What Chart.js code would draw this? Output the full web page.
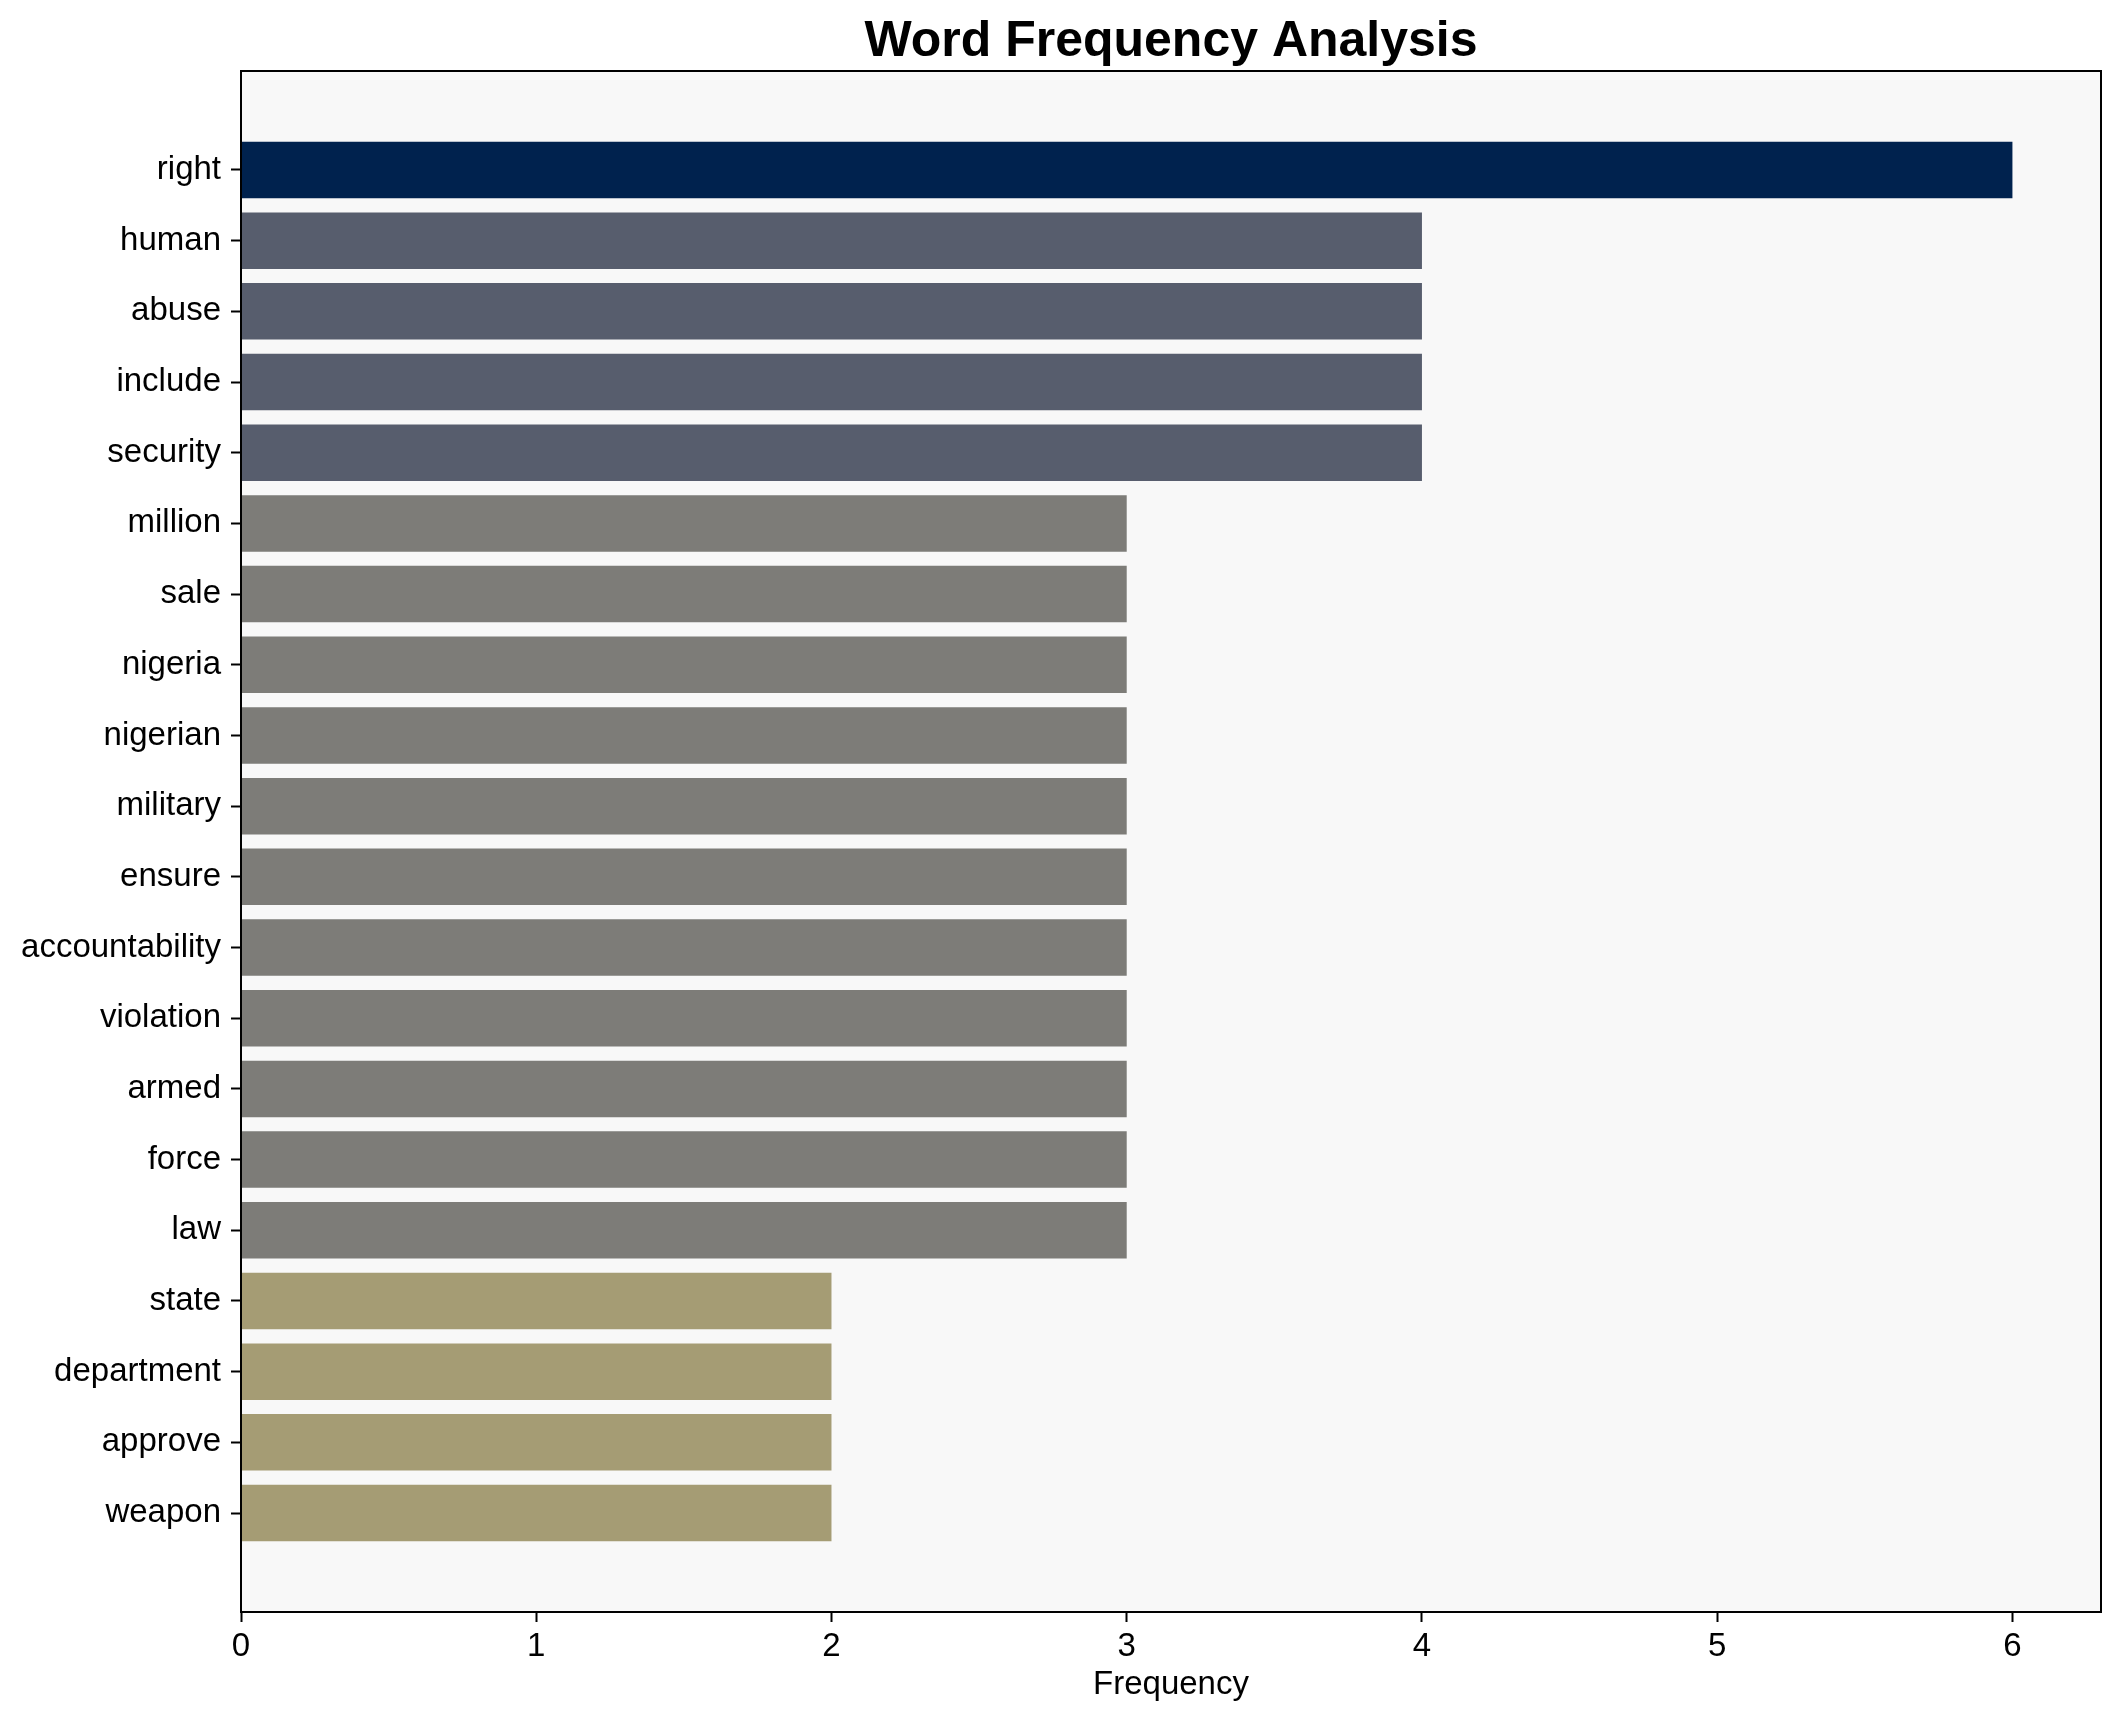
<!DOCTYPE html>
<html>
<head>
<meta charset="utf-8">
<script src="https://cdn.jsdelivr.net/npm/chart.js@4.4.1/dist/chart.umd.min.js"></script>
<style>
  html, body { margin: 0; padding: 0; background: #ffffff; }
  #wrap { width: 2121px; height: 1722px; }
</style>
</head>
<body>
<div id="wrap"><canvas id="c" width="2121" height="1722"></canvas></div>
<script>
const words = ["right", "human", "abuse", "include", "security", "million", "sale", "nigeria", "nigerian", "military", "ensure", "accountability", "violation", "armed", "force", "law", "state", "department", "approve", "weapon"];
const counts = [6, 4, 4, 4, 4, 3, 3, 3, 3, 3, 3, 3, 3, 3, 3, 3, 2, 2, 2, 2];
const xTicks = [0, 1, 2, 3, 4, 5, 6];
const titleText = "Word Frequency Analysis";
const xLabel = "Frequency";
const palette = { 6: "#00224E", 4: "#575D6D", 3: "#7D7C78", 2: "#A59C74" };

const FONT = "'Liberation Sans', Arial, sans-serif";

const framePlugin = {
  id: 'frame',
  beforeDatasetsDraw(chart) {
    const a = chart.chartArea, ctx = chart.ctx;
    ctx.save();
    ctx.fillStyle = '#f8f8f8';
    ctx.fillRect(a.left, a.top, a.right - a.left, a.bottom - a.top);
    ctx.restore();
  },
  afterDatasetsDraw(chart) {
    const a = chart.chartArea, ctx = chart.ctx;
    ctx.save();
    ctx.strokeStyle = '#000';
    ctx.lineWidth = 2;
    ctx.strokeRect(a.left, a.top, a.right - a.left, a.bottom - a.top);
    ctx.restore();
  }
};

new Chart(document.getElementById('c'), {
  type: 'bar',
  data: {
    datasets: [{
      data: words.map((w, i) => ({ x: counts[i], y: i })),
      backgroundColor: counts.map(v => palette[v]),
      borderWidth: 0,
      barPercentage: 0.8,
      categoryPercentage: 1.0
    }]
  },
  options: {
    indexAxis: 'y',
    responsive: false,
    animation: false,
    layout: { padding: { left: 0, right: 20, top: 0, bottom: 0 } },
    plugins: {
      legend: { display: false },
      tooltip: { enabled: false },
      title: {
        display: true,
        text: titleText,
        fullSize: false,
        color: '#000',
        font: { family: FONT, size: 50, weight: 'bold', lineHeight: 1 },
        padding: { top: 17, bottom: 4 }
      }
    },
    scales: {
      x: {
        type: 'linear',
        offset: false,
        min: 0,
        max: 6.3,
        afterBuildTicks: (s) => { s.ticks = xTicks.map(v => ({ value: v })); },
        afterFit: (s) => { s.height = 110; },
        grid: { offset: false, drawOnChartArea: false, drawTicks: true, tickLength: 10, tickWidth: 2, tickColor: '#000' },
        border: { display: false },
        ticks: { color: '#000', padding: 5, font: { family: FONT, size: 33, lineHeight: 1.2 }, maxRotation: 0, autoSkip: false },
        title: { display: true, text: xLabel, color: '#000', font: { family: FONT, size: 33, lineHeight: 1.2 }, padding: { top: 0, bottom: 17 } }
      },
      y: {
        type: 'linear',
        offset: false,
        reverse: true,
        min: -1.40,
        max: 20.40,
        afterBuildTicks: (s) => { s.ticks = words.map((w, i) => ({ value: i })); },
        afterFit: (s) => { s.width = 241; },
        grid: { offset: false, drawOnChartArea: false, drawTicks: true, tickLength: 10, tickWidth: 2, tickColor: '#000' },
        border: { display: false },
        ticks: {
          color: '#000', padding: 10, autoSkip: false,
          font: { family: FONT, size: 33, lineHeight: 1.2 },
          callback: (v) => words[v]
        }
      }
    }
  },
  plugins: [framePlugin]
});
</script>
</body>
</html>
